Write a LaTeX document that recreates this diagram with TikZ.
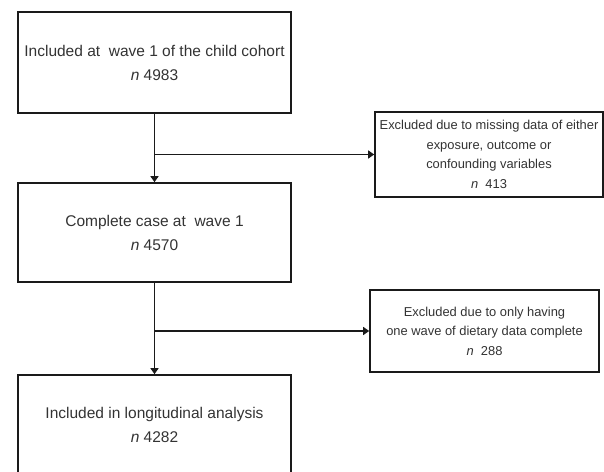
\documentclass[tikz,border=0pt]{standalone}
\usepackage{fontspec}
\setmainfont{Liberation Sans}
\usetikzlibrary{arrows.meta}
\definecolor{txt}{HTML}{333333}
\definecolor{edge}{HTML}{1A1A1A}
\begin{document}
\begin{tikzpicture}[x=1pt,y=-1pt,
  mainbox/.style={draw=edge,line width=1.6pt,text=txt,align=center,inner sep=0pt,
    minimum width=273pt,font=\fontsize{15.5}{24}\selectfont},
  sidebox/.style={draw=edge,line width=1.6pt,text=txt,align=center,inner sep=0pt,
    font=\fontsize{12.9}{19.5}\selectfont},
  conn/.style={draw=edge,line width=1.2pt},
  arr/.style={conn,-{Triangle[width=8pt,length=6pt]}}]
\useasboundingbox (0,0) rectangle (604,471);
\clip (0,0) rectangle (604,471);
\node[mainbox,minimum height=101pt] (b1) at (154.5,62.5)
  {Included at~~wave 1 of the child cohort\\\textit{n} 4983};
\node[mainbox,minimum height=99pt] (b2) at (154.5,232.5)
  {Complete case at~~wave 1\\\textit{n} 4570};
\node[mainbox,minimum height=99pt] (b3) at (154.5,424.5)
  {Included in longitudinal analysis\\\textit{n} 4282};
\node[sidebox,minimum width=228pt,minimum height=85pt] (r1) at (489,154.5)
  {Excluded due to missing data of either\\exposure, outcome or\\confounding variables\\\textit{n}~~413};
\node[sidebox,minimum width=229pt,minimum height=82pt] (r2) at (484.5,331)
  {Excluded due to only having\\one wave of dietary data complete\\\textit{n}~~288};
\coordinate (j1) at (b1.south |- r1.west);
\coordinate (j2) at (b2.south |- r2.west);
\draw[arr] (b1.south) -- (b2.north);
\draw[arr] (j1) -- (r1.west);
\draw[arr] (b2.south) -- (b3.north);
\draw[arr] (j2) -- (r2.west);
\end{tikzpicture}
\end{document}
